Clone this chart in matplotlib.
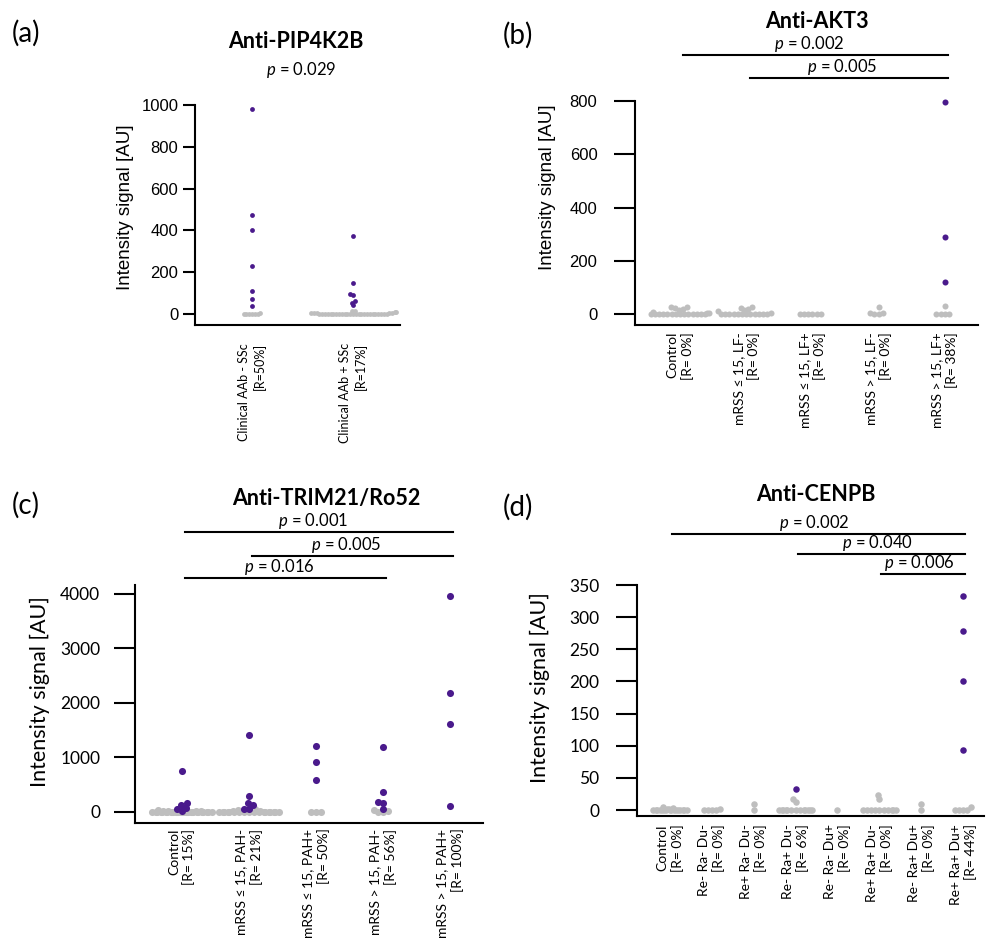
import numpy as np
import matplotlib
matplotlib.use("Agg")
import matplotlib.pyplot as plt
from matplotlib.transforms import blended_transform_factory

plt.rcParams['font.family'] = ['Lato', 'DejaVu Sans']
plt.rcParams['mathtext.fontset'] = 'custom'
plt.rcParams['mathtext.it'] = 'Lato:italic'
plt.rcParams['mathtext.rm'] = 'Lato'

PURPLE = '#4a1a8c'
GRAY = '#bebebe'

# ---- data ----
a_labels = ["Clinical AAb - SSc\n[R=50%]", "Clinical AAb + SSc\n[R=17%]"]
a_pos = [[983, 475, 402, 228, 108, 72, 37],
         [372, 148, 96, 93, 60, 55, 42]]
a_neg = [[0, 0, 0, 0, 1, 2, 3],
         [0, 0, 0, 0, 0, 0, 0, 0, 0, 0, 0, 0, 0, 0, 0, 0, 0,
          1, 1, 2, 2, 3, 3, 4, 5, 6, 8, 10, 12, 15, 0, 0, 0, 0]]

b_labels = ["Control\n[R= 0%]", "mRSS \u2264 15, LF-\n[R= 0%]", "mRSS \u2264 15, LF+\n[R= 0%]",
            "mRSS > 15, LF-\n[R= 0%]", "mRSS > 15, LF+\n[R= 38%]"]
b_pos = [[], [], [], [], [795, 288, 122]]
b_neg = [[0, 0, 0, 0, 0, 0, 0, 0, 0, 0, 0, 0, 0, 0, 3, 5, 8, 15, 20, 22, 25, 28],
         [0, 0, 0, 0, 0, 0, 0, 0, 0, 0, 0, 0, 4, 10, 14, 20, 24, 26],
         [0, 0, 0, 0, 0, 0],
         [0, 0, 2, 4, 28],
         [0, 0, 0, 0, 30]]
b_pvals = [(1, 5, "0.002"), (2, 5, "0.005")]

c_labels = ["Control\n[R= 15%]", "mRSS \u2264 15, PAH-\n[R= 21%]", "mRSS \u2264 15, PAH+\n[R= 50%]",
            "mRSS > 15, PAH-\n[R= 56%]", "mRSS > 15, PAH+\n[R= 100%]"]
c_pos = [[752, 165, 120, 75, 55, 15],
         [1413, 294, 165, 120, 55, 55],
         [1211, 917, 587],
         [1193, 360, 190, 160, 55],
         [3963, 2183, 1615, 110]]
c_neg = [[0, 0, 0, 0, 0, 0, 0, 0, 0, 0, 0, 0, 0, 0, 0, 0, 0,
          0, 0, 0, 0, 0, 0, 0, 0, 0, 0, 0, 5, 10, 15, 20, 25, 30],
         [0, 0, 0, 0, 0, 0, 0, 0, 0, 0, 0, 0, 0, 0, 0, 0, 0, 0, 15, 25, 35, 50],
         [0, 0, 0],
         [0, 0, 20, 45],
         []]
c_pvals = [(1, 5, "0.001"), (2, 5, "0.005"), (1, 4, "0.016")]

d_labels = ["Control\n[R= 0%]", "Re- Ra- Du-\n[R= 0%]", "Re+ Ra- Du-\n[R= 0%]",
            "Re- Ra+ Du-\n[R= 6%]", "Re- Ra- Du+\n[R= 0%]", "Re+ Ra+ Du-\n[R= 0%]",
            "Re- Ra+ Du+\n[R= 0%]", "Re+ Ra+ Du+\n[R= 44%]"]
d_pos = [[], [], [], [32], [], [], [], [333, 278, 200, 94]]
d_neg = [[0, 0, 0, 0, 0, 0, 0, 0, 0, 0, 0, 0, 0, 0, 0, 0, 1, 2, 3, 4],
         [0, 0, 0, 0, 2],
         [0, 9],
         [0, 0, 0, 0, 0, 0, 0, 0, 0, 0, 0, 0, 0, 12, 17],
         [0],
         [0, 0, 0, 0, 0, 0, 0, 0, 0, 0, 17, 23],
         [0, 9],
         [0, 0, 0, 0, 4]]
d_pvals = [(1, 8, "0.002"), (4, 8, "0.040"), (6, 8, "0.006")]

W, H = 992, 940
fig = plt.figure(figsize=(W / 100, H / 100), dpi=100)


def fx(x):
    return x / W


def fy(y):
    return 1 - y / H


def swarm(vals, gap, half, ppy):
    # simple beeswarm in pixel units, wrapped into +-half (like corral="wrap")
    vals = np.asarray(vals, dtype=float)
    order = np.argsort(vals, kind='stable')
    placed = []
    offs = np.zeros(len(vals))
    for i in order:
        y = vals[i] * ppy
        cands = [0.0]
        for px, py in placed:
            dy = abs(py - y)
            if dy < gap:
                dx = np.sqrt(gap ** 2 - dy ** 2)
                cands += [px - dx, px + dx]
        cands.sort(key=lambda c: (round(abs(c), 6), c))
        x = 0.0
        for c in cands:
            if all((c - px) ** 2 + (y - py) ** 2 >= gap ** 2 - 1e-6 for px, py in placed):
                x = c
                break
        placed.append((x, y))
        offs[i] = x
    offs = np.where(np.abs(offs) > half, ((offs + half) % (2 * half)) - half, offs)
    return offs


def panel(rect, labels, pos, neg, ylim, yticks, xlim, s, gap, half,
          tickfont, ticksize, ticklen, tickpad, labpad, xlabsize):
    l, r, t, b = rect
    ax = fig.add_axes([fx(l), fy(b), (r - l) / W, (b - t) / H])
    ax.set_xlim(*xlim)
    ax.set_ylim(*ylim)
    ppx = (r - l) / (xlim[1] - xlim[0])
    ppy = (b - t) / (ylim[1] - ylim[0])
    for i in range(len(labels)):
        # gray (negative) and purple (positive) swarms laid out separately
        for vals, col, z in [(neg[i], GRAY, 2), (pos[i], PURPLE, 3)]:
            if len(vals) == 0:
                continue
            xo = swarm(vals, gap, half, ppy) / ppx + (i + 1)
            ax.scatter(xo, vals, s=s, color=col, linewidths=0, zorder=z, clip_on=False)
    for side in ['top', 'right']:
        ax.spines[side].set_visible(False)
    for side in ['left', 'bottom']:
        ax.spines[side].set_linewidth(1.5)
    ax.set_yticks(yticks)
    ax.set_yticklabels([str(v) for v in yticks], fontsize=ticksize, family=tickfont)
    ax.tick_params(axis='y', length=ticklen, width=1.5, pad=tickpad)
    ax.set_xticks(range(1, len(labels) + 1))
    ax.set_xticklabels(labels, rotation=90, ha='center', va='top', ma='right',
                       fontsize=xlabsize, linespacing=1.2)
    ax.tick_params(axis='x', length=0, pad=labpad)
    ax.set_facecolor('none')
    return ax


def pbars(ax, pvals, bar_ys, size):
    tr = blended_transform_factory(ax.transData, fig.transFigure)
    for (g1, g2, txt), yb in zip(pvals, bar_ys):
        ax.plot([g1 + 0.05, g2 + 0.05], [fy(yb), fy(yb)], color='black', lw=1.5,
                transform=tr, clip_on=False)
        ax.text((g1 + g2) / 2 - 0.05, fy(yb - 1), '$p$ = ' + txt, transform=tr,
                ha='center', va='bottom', fontsize=size)


# (a)
axa = panel((195, 400, 105, 325), a_labels, a_pos, a_neg, (-52.6, 1000),
            [0, 200, 400, 600, 800, 1000], (0.436, 2.465), 12, 2.8, 44,
            'Liberation Sans', 12, 9, 3, 13, 9)
# (b)
axb = panel((635, 978, 101, 325), b_labels, b_pos, b_neg, (-41.3, 800),
            [0, 200, 400, 600, 800], (0.32, 5.5), 19, 4.2, 30,
            'Liberation Sans', 12, 15, 12, 5, 10)
# (c)
axc = panel((135, 483, 585, 823), c_labels, c_pos, c_neg, (-202, 4165),
            [0, 1000, 2000, 3000, 4000], (0.30, 5.49), 26, 5.0, 30.5,
            'Lato', 12.5, 15, 10, 4, 10)
# (d)
axd = panel((637, 984, 585, 816), d_labels, d_pos, d_neg, (-9.3, 350),
            [0, 50, 100, 150, 200, 250, 300, 350], (0.21, 8.5), 22, 4.2, 17.5,
            'Lato', 12.5, 15, 12, 6, 10)

pbars(axb, b_pvals, [55, 78], 12)
pbars(axc, c_pvals, [532, 556, 578], 12)
pbars(axd, d_pvals, [534, 554, 574], 12)

# titles, panel letters, y labels
fig.text(fx(296), fy(42), 'Anti-PIP4K2B', ha='center', va='center', fontsize=15.5, fontweight='bold')
fig.text(fx(301), fy(70), '$p$ = 0.029', ha='center', va='center', fontsize=12)
fig.text(fx(817), fy(22), 'Anti-AKT3', ha='center', va='center', fontsize=15.5, fontweight='bold')
fig.text(fx(326), fy(498), 'Anti-TRIM21/Ro52', ha='center', va='center', fontsize=15.5, fontweight='bold')
fig.text(fx(816), fy(495), 'Anti-CENPB', ha='center', va='center', fontsize=15.5, fontweight='bold')

for lab, x, y in [('(a)', 12, 33), ('(b)', 503, 35), ('(c)', 12, 505), ('(d)', 503, 507)]:
    fig.text(fx(x), fy(y), lab, ha='left', va='center', fontsize=20)

fig.text(fx(125), fy(207), 'Intensity signal [AU]', rotation=90, ha='center', va='center',
         fontsize=13.5, family='Liberation Sans')
fig.text(fx(548), fy(187), 'Intensity signal [AU]', rotation=90, ha='center', va='center',
         fontsize=13.5, family='Liberation Sans')
fig.text(fx(40), fy(692), 'Intensity signal [AU]', rotation=90, ha='center', va='center',
         fontsize=15.5)
fig.text(fx(540), fy(688), 'Intensity signal [AU]', rotation=90, ha='center', va='center',
         fontsize=15.5)

fig.savefig('out.png', dpi=100, facecolor='white')
